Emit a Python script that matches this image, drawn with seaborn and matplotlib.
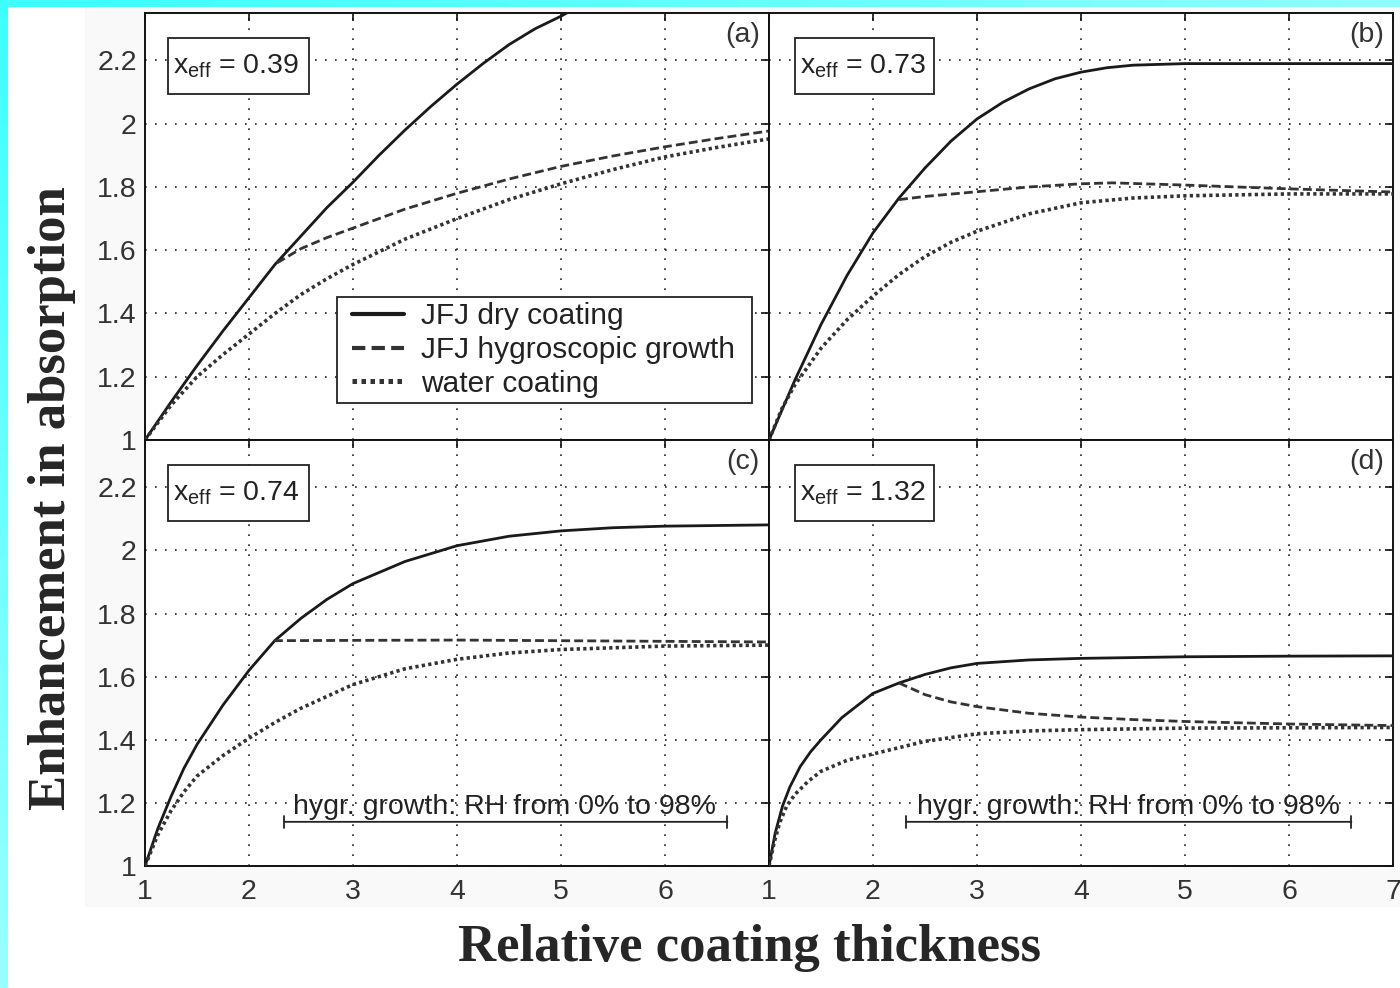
import numpy as np
import pandas as pd
import matplotlib
matplotlib.use("Agg")
import matplotlib.pyplot as plt
from matplotlib.lines import Line2D
from matplotlib.patches import Rectangle
import seaborn as sns

# ---- (a) x_eff = 0.39 ----
a_dry_x = [1.0, 1.25, 1.5, 1.75, 2.0, 2.25, 2.5, 2.75, 3.0, 3.25, 3.5, 3.75, 4.0, 4.25, 4.5, 4.75, 5.0, 5.1]
a_dry_y = [1.0, 1.12, 1.235, 1.345, 1.45, 1.555, 1.645, 1.735, 1.815, 1.90, 1.98, 2.055, 2.125, 2.19, 2.25, 2.30, 2.34, 2.358]
a_hyg_x = [2.27, 2.5, 2.75, 3.0, 3.5, 4.0, 4.5, 5.0, 5.5, 6.0, 6.5, 7.0]
a_hyg_y = [1.56, 1.605, 1.64, 1.67, 1.73, 1.78, 1.825, 1.865, 1.898, 1.927, 1.953, 1.977]
a_wat_x = [1.0, 1.25, 1.5, 1.75, 2.0, 2.25, 2.5, 2.75, 3.0, 3.5, 4.0, 4.5, 5.0, 5.5, 6.0, 6.5, 7.0]
a_wat_y = [1.0, 1.11, 1.20, 1.27, 1.335, 1.40, 1.46, 1.51, 1.555, 1.635, 1.70, 1.76, 1.81, 1.855, 1.895, 1.925, 1.952]

# ---- (b) x_eff = 0.73 ----
b_dry_x = [1.0, 1.25, 1.5, 1.75, 2.0, 2.25, 2.5, 2.75, 3.0, 3.25, 3.5, 3.75, 4.0, 4.25, 4.5, 5.0, 5.5, 6.0, 7.0]
b_dry_y = [1.0, 1.19, 1.365, 1.52, 1.655, 1.765, 1.86, 1.945, 2.015, 2.068, 2.11, 2.142, 2.163, 2.177, 2.185, 2.19, 2.19, 2.19, 2.19]
b_hyg_x = [2.25, 2.5, 3.0, 3.5, 4.0, 4.3, 5.0, 5.5, 6.0, 6.5, 7.0]
b_hyg_y = [1.76, 1.77, 1.785, 1.80, 1.81, 1.813, 1.806, 1.80, 1.794, 1.789, 1.784]
b_wat_x = [1.0, 1.125, 1.25, 1.5, 1.75, 2.0, 2.25, 2.5, 2.75, 3.0, 3.5, 4.0, 4.5, 5.0, 6.0, 7.0]
b_wat_y = [1.0, 1.10, 1.175, 1.29, 1.38, 1.455, 1.523, 1.58, 1.625, 1.66, 1.715, 1.75, 1.765, 1.772, 1.778, 1.778]

# ---- (c) x_eff = 0.74 ----
c_dry_x = [1.0, 1.125, 1.25, 1.375, 1.5, 1.75, 2.0, 2.25, 2.5, 2.75, 3.0, 3.5, 4.0, 4.5, 5.0, 5.5, 6.0, 7.0]
c_dry_y = [1.0, 1.12, 1.22, 1.31, 1.385, 1.51, 1.62, 1.715, 1.785, 1.845, 1.895, 1.965, 2.015, 2.045, 2.062, 2.072, 2.077, 2.081]
c_hyg_x = [2.24, 3.0, 4.0, 5.0, 6.0, 7.0]
c_hyg_y = [1.714, 1.715, 1.716, 1.714, 1.712, 1.71]
c_wat_x = [1.0, 1.125, 1.25, 1.375, 1.5, 1.75, 2.0, 2.25, 2.5, 3.0, 3.5, 4.0, 4.5, 5.0, 6.0, 7.0]
c_wat_y = [1.0, 1.10, 1.175, 1.235, 1.285, 1.35, 1.405, 1.455, 1.50, 1.575, 1.625, 1.655, 1.675, 1.686, 1.697, 1.70]

# ---- (d) x_eff = 1.32 ----
d_dry_x = [1.0, 1.06, 1.13, 1.2, 1.3, 1.4, 1.5, 1.7, 2.0, 2.25, 2.5, 2.75, 3.0, 3.5, 4.0, 5.0, 6.0, 7.0]
d_dry_y = [1.0, 1.105, 1.19, 1.25, 1.315, 1.362, 1.40, 1.47, 1.547, 1.58, 1.607, 1.628, 1.642, 1.653, 1.658, 1.663, 1.665, 1.666]
d_hyg_x = [2.25, 2.5, 2.75, 3.0, 3.5, 4.0, 4.5, 5.0, 6.0, 7.0]
d_hyg_y = [1.58, 1.543, 1.52, 1.505, 1.484, 1.472, 1.464, 1.458, 1.45, 1.445]
d_wat_x = [1.0, 1.05, 1.1, 1.17, 1.25, 1.375, 1.5, 1.75, 2.0, 2.5, 3.0, 3.5, 4.0, 5.0, 6.0, 7.0]
d_wat_y = [1.0, 1.075, 1.135, 1.19, 1.227, 1.268, 1.30, 1.335, 1.355, 1.395, 1.419, 1.428, 1.432, 1.437, 1.438, 1.439]

panel_tags = ["(a)", "(b)", "(c)", "(d)"]
x_eff_values = ["0.39", "0.73", "0.74", "1.32"]
series_names = ["JFJ dry coating", "JFJ hygroscopic growth", "water coating"]
rh_span = {"c": [2.34, 6.6], "d": [2.32, 6.6]}
rh_note = "hygr. growth: RH from 0% to 98%"
x_ticks = [1, 2, 3, 4, 5, 6, 7]
y_ticks = [1.0, 1.2, 1.4, 1.6, 1.8, 2.0, 2.2]
y_tick_labels = ["1", "1.2", "1.4", "1.6", "1.8", "2", "2.2"]

curves = {
    "a": [(a_dry_x, a_dry_y), (a_hyg_x, a_hyg_y), (a_wat_x, a_wat_y)],
    "b": [(b_dry_x, b_dry_y), (b_hyg_x, b_hyg_y), (b_wat_x, b_wat_y)],
    "c": [(c_dry_x, c_dry_y), (c_hyg_x, c_hyg_y), (c_wat_x, c_wat_y)],
    "d": [(d_dry_x, d_dry_y), (d_hyg_x, d_hyg_y), (d_wat_x, d_wat_y)],
}
rows = []
for key, lst in curves.items():
    for name, (xs, ys) in zip(series_names, lst):
        for xv, yv in zip(xs, ys):
            rows.append({"panel": key, "series": name, "thickness": xv, "enhancement": yv})
df = pd.DataFrame(rows)

sns.set_theme(style="white")
plt.rcParams["font.family"] = ["Liberation Sans", "DejaVu Sans"]
plt.rcParams["mathtext.fontset"] = "custom"
plt.rcParams["mathtext.rm"] = "Liberation Sans"

W, H = 1400, 988
fig = plt.figure(figsize=(W / 100, H / 100), dpi=100)
fig.patch.set_facecolor("white")

# page decoration: faint grey sheet and cyan frame strips
bg = fig.add_axes([0, 0, 1, 1], zorder=-10)
bg.set_xlim(0, W)
bg.set_ylim(H, 0)
bg.axis("off")
bg.add_patch(Rectangle((85, 7), W - 85, 900, facecolor="#f9f9f9", edgecolor="none"))
top_grad = np.linspace(0, 1, 256)[None, :, None]
c0 = np.array([0.24, 1.0, 1.0])
c1 = np.array([0.55, 1.0, 1.0])
bg.imshow(c0 + (c1 - c0) * top_grad, extent=[0, W, 7, 0], aspect="auto", zorder=2)
left_grad = np.linspace(0, 1, 256)[:, None, None]
c2 = np.array([0.60, 1.0, 1.0])
bg.imshow(c0 + (c2 - c0) * left_grad, extent=[0, 8, H, 0], aspect="auto", zorder=2)

def frac(l, t, r, b):
    return [l / W, 1 - b / H, (r - l) / W, (b - t) / H]

boxes = {"a": (145, 13, 769, 440), "b": (769, 13, 1393, 440),
         "c": (145, 440, 769, 866), "d": (769, 440, 1393, 866)}

styles = [
    dict(color="#1a1a1a", lw=2.0, ls="-"),
    dict(color="#333333", lw=2.0, ls=(0, (3.2, 1.5))),
    dict(color="#333333", lw=2.6, ls=(0, (0.9, 0.9))),
]
fs = 20.5

for i, key in enumerate(["a", "b", "c", "d"]):
    ax = fig.add_axes(frac(*boxes[key]))
    ax.set_facecolor("white")
    sub = df[df["panel"] == key]
    for name, st in zip(series_names, styles):
        s = sub[sub["series"] == name]
        sns.lineplot(data=s, x="thickness", y="enhancement", ax=ax, sort=False,
                     estimator=None, legend=False, color=st["color"],
                     linewidth=st["lw"], linestyle=st["ls"], zorder=3)
    ax.set_xlim(1, 7)
    ax.set_ylim(1, 2.35)
    ax.set_xlabel("")
    ax.set_ylabel("")
    ax.set_xticks(x_ticks)
    ax.set_yticks(y_ticks)
    ax.grid(True, color="#222222", linestyle=(0, (1, 5)), linewidth=1.2)
    ax.tick_params(direction="in", length=6, width=1.2, top=True, right=True,
                   labelsize=fs, colors="#111111", pad=6)
    ax.tick_params(axis="x", pad=9)
    for sp in ax.spines.values():
        sp.set_color("#111111")
        sp.set_linewidth(1.4)
        sp.set_visible(True)
    if key in ("a", "c"):
        ax.set_yticklabels(y_tick_labels)
    else:
        ax.set_yticklabels([])
    if key == "c":
        ax.set_xticklabels([str(t) if t < 7 else "" for t in x_ticks])
    elif key == "d":
        ax.set_xticklabels([str(t) for t in x_ticks])
    else:
        ax.set_xticklabels([])
    for lab in ax.get_xticklabels() + ax.get_yticklabels():
        lab.set_color("#333333")

    # x_eff box
    l, t, r, b = boxes[key]
    pw, ph = r - l, b - t
    box_w = 141 if key in ("a", "c") else 139
    x0 = (168 - 145) / pw if key in ("a", "c") else 26 / pw
    ax.add_patch(Rectangle((x0, 1 - 81 / ph), box_w / pw, 56 / ph, transform=ax.transAxes,
                           facecolor="white", edgecolor="#222222", lw=1.3, zorder=5))
    ax.text(x0 + 5 / pw, 1 - 53 / ph, r"$\mathregular{x_{eff}}$ = " + x_eff_values[i],
            transform=ax.transAxes, fontsize=fs, color="#222222", va="center", ha="left", zorder=6)
    ax.text(1 - 9 / pw, 1 - 22 / ph, panel_tags[i], transform=ax.transAxes,
            fontsize=fs, color="#333333", ha="right", va="center", zorder=6)

    if key in rh_span:
        x_lo, x_hi = rh_span[key]
        ax.annotate("", xy=(x_hi, 1.14), xytext=(x_lo, 1.14),
                    arrowprops=dict(arrowstyle="|-|, widthA=0.35, widthB=0.35",
                                    lw=1.3, color="#222222", shrinkA=0, shrinkB=0), zorder=4)
        ax.text(4.46, 1.165, rh_note, fontsize=fs, color="#222222",
                ha="center", va="baseline", zorder=4)

    if key == "a":
        # legend frame drawn as its own box, entries placed inside it
        ax.add_patch(Rectangle(((337 - l) / pw, 1 - (403 - t) / ph), 415 / pw, 106 / ph,
                               transform=ax.transAxes, facecolor="white",
                               edgecolor="#222222", lw=1.3, zorder=6))
        handles = [Line2D([], [], color=st["color"], lw=st["lw"] + 1.0, ls=st["ls"]) for st in styles]
        leg = ax.legend(handles, series_names, loc="upper left",
                        bbox_to_anchor=((352 - l) / pw, 1 - (302 - t) / ph),
                        fontsize=21.5, frameon=False, handlelength=1.74,
                        handletextpad=0.57, labelspacing=0.2, borderpad=0,
                        borderaxespad=0)
        for txt in leg.get_texts():
            txt.set_color("#222222")
        leg.set_zorder(7)

fig.text(52 / W, 1 - 498 / H, "Enhancement in absorption", rotation=90,
         ha="center", va="center", fontsize=38, fontweight="bold",
         family=["Liberation Serif", "DejaVu Serif"])
fig.text(750 / W, 1 - 948 / H, "Relative coating thickness",
         ha="center", va="center", fontsize=38, fontweight="bold",
         family=["Liberation Serif", "DejaVu Serif"])

fig.savefig("out.png", dpi=100)
